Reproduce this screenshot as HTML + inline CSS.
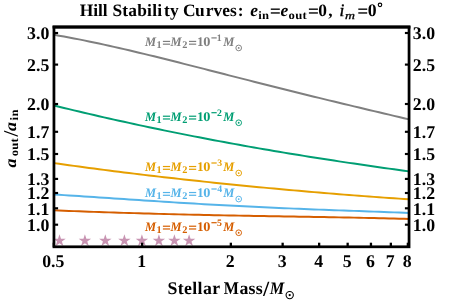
<!DOCTYPE html>
<html><head><meta charset="utf-8"><title>Hill Stability Curves</title>
<style>html,body{margin:0;padding:0;background:#fff;}body{width:463px;height:300px;overflow:hidden;position:relative;font-family:"Liberation Serif",serif;}</style></head>
<body>
<svg width="463" height="300" viewBox="0 0 463 300" font-family="Liberation Serif, serif" text-rendering="geometricPrecision" style="display:block;position:absolute;left:0;top:0;will-change:transform;opacity:0.999">
<rect x="0" y="0" width="463" height="300" fill="#fff"/>
<polygon points="59.50,234.25 60.97,238.78 65.73,238.78 61.88,241.57 63.35,246.10 59.50,243.30 55.65,246.10 57.12,241.57 53.27,238.78 58.03,238.78" fill="#C894B2" fill-opacity="1"/>
<polygon points="84.90,234.25 86.37,238.78 91.13,238.78 87.28,241.57 88.75,246.10 84.90,243.30 81.05,246.10 82.52,241.57 78.67,238.78 83.43,238.78" fill="#C894B2" fill-opacity="1"/>
<polygon points="105.30,234.25 106.77,238.78 111.53,238.78 107.68,241.57 109.15,246.10 105.30,243.30 101.45,246.10 102.92,241.57 99.07,238.78 103.83,238.78" fill="#C894B2" fill-opacity="1"/>
<polygon points="124.40,234.25 125.87,238.78 130.63,238.78 126.78,241.57 128.25,246.10 124.40,243.30 120.55,246.10 122.02,241.57 118.17,238.78 122.93,238.78" fill="#C894B2" fill-opacity="1"/>
<polygon points="141.90,234.25 143.37,238.78 148.13,238.78 144.28,241.57 145.75,246.10 141.90,243.30 138.05,246.10 139.52,241.57 135.67,238.78 140.43,238.78" fill="#C894B2" fill-opacity="1"/>
<polygon points="158.90,234.25 160.37,238.78 165.13,238.78 161.28,241.57 162.75,246.10 158.90,243.30 155.05,246.10 156.52,241.57 152.67,238.78 157.43,238.78" fill="#C894B2" fill-opacity="1"/>
<polygon points="174.40,234.25 175.87,238.78 180.63,238.78 176.78,241.57 178.25,246.10 174.40,243.30 170.55,246.10 172.02,241.57 168.17,238.78 172.93,238.78" fill="#C894B2" fill-opacity="1"/>
<polygon points="189.10,234.25 190.57,238.78 195.33,238.78 191.48,241.57 192.95,246.10 189.10,243.30 185.25,246.10 186.72,241.57 182.87,238.78 187.63,238.78" fill="#C894B2" fill-opacity="1"/>
<path d="M54.0,34.81 L59.0,35.67 L64.0,36.56 L69.0,37.48 L74.0,38.43 L79.0,39.40 L84.0,40.40 L89.0,41.42 L94.0,42.47 L99.0,43.53 L104.0,44.62 L109.0,45.72 L114.0,46.84 L119.0,47.98 L124.0,49.14 L129.0,50.30 L134.0,51.49 L139.0,52.68 L144.0,53.88 L149.0,55.10 L154.0,56.32 L159.0,57.56 L164.0,58.80 L169.0,60.05 L174.0,61.30 L179.0,62.56 L184.0,63.83 L189.0,65.10 L194.0,66.37 L199.0,67.65 L204.0,68.92 L209.0,70.20 L214.0,71.48 L219.0,72.76 L224.0,74.04 L229.0,75.32 L234.0,76.60 L239.0,77.88 L244.0,79.16 L249.0,80.43 L254.0,81.70 L259.0,82.97 L264.0,84.23 L269.0,85.50 L274.0,86.75 L279.0,88.01 L284.0,89.26 L289.0,90.51 L294.0,91.75 L299.0,92.99 L304.0,94.22 L309.0,95.45 L314.0,96.68 L319.0,97.90 L324.0,99.12 L329.0,100.33 L334.0,101.54 L339.0,102.75 L344.0,103.95 L349.0,105.15 L354.0,106.35 L359.0,107.54 L364.0,108.74 L369.0,109.93 L374.0,111.11 L379.0,112.30 L384.0,113.49 L389.0,114.67 L394.0,115.86 L399.0,117.05 L404.0,118.23 L409.0,119.42" fill="none" stroke="#7f7f7f" stroke-width="1.95" stroke-linejoin="round"/>
<path d="M54.0,105.53 L59.0,106.75 L64.0,107.96 L69.0,109.17 L74.0,110.36 L79.0,111.55 L84.0,112.72 L89.0,113.89 L94.0,115.05 L99.0,116.20 L104.0,117.34 L109.0,118.47 L114.0,119.60 L119.0,120.71 L124.0,121.82 L129.0,122.91 L134.0,124.00 L139.0,125.08 L144.0,126.15 L149.0,127.21 L154.0,128.26 L159.0,129.30 L164.0,130.34 L169.0,131.36 L174.0,132.38 L179.0,133.38 L184.0,134.38 L189.0,135.37 L194.0,136.35 L199.0,137.33 L204.0,138.29 L209.0,139.25 L214.0,140.20 L219.0,141.13 L224.0,142.07 L229.0,142.99 L234.0,143.90 L239.0,144.81 L244.0,145.71 L249.0,146.60 L254.0,147.48 L259.0,148.35 L264.0,149.22 L269.0,150.08 L274.0,150.93 L279.0,151.77 L284.0,152.61 L289.0,153.44 L294.0,154.26 L299.0,155.07 L304.0,155.88 L309.0,156.68 L314.0,157.47 L319.0,158.26 L324.0,159.04 L329.0,159.81 L334.0,160.58 L339.0,161.34 L344.0,162.09 L349.0,162.84 L354.0,163.58 L359.0,164.32 L364.0,165.05 L369.0,165.77 L374.0,166.49 L379.0,167.20 L384.0,167.91 L389.0,168.62 L394.0,169.31 L399.0,170.01 L404.0,170.70 L409.0,171.38" fill="none" stroke="#009E73" stroke-width="1.95" stroke-linejoin="round"/>
<path d="M54.0,163.10 L59.0,163.81 L64.0,164.51 L69.0,165.21 L74.0,165.90 L79.0,166.58 L84.0,167.26 L89.0,167.93 L94.0,168.59 L99.0,169.24 L104.0,169.89 L109.0,170.53 L114.0,171.17 L119.0,171.80 L124.0,172.42 L129.0,173.04 L134.0,173.65 L139.0,174.25 L144.0,174.85 L149.0,175.44 L154.0,176.03 L159.0,176.61 L164.0,177.19 L169.0,177.76 L174.0,178.32 L179.0,178.88 L184.0,179.44 L189.0,179.99 L194.0,180.53 L199.0,181.07 L204.0,181.61 L209.0,182.13 L214.0,182.66 L219.0,183.18 L224.0,183.69 L229.0,184.20 L234.0,184.71 L239.0,185.21 L244.0,185.70 L249.0,186.19 L254.0,186.68 L259.0,187.16 L264.0,187.63 L269.0,188.11 L274.0,188.57 L279.0,189.03 L284.0,189.49 L289.0,189.94 L294.0,190.39 L299.0,190.83 L304.0,191.27 L309.0,191.71 L314.0,192.13 L319.0,192.56 L324.0,192.98 L329.0,193.39 L334.0,193.80 L339.0,194.21 L344.0,194.60 L349.0,195.00 L354.0,195.39 L359.0,195.77 L364.0,196.15 L369.0,196.52 L374.0,196.89 L379.0,197.26 L384.0,197.61 L389.0,197.97 L394.0,198.31 L399.0,198.65 L404.0,198.99 L409.0,199.32" fill="none" stroke="#E69F00" stroke-width="1.95" stroke-linejoin="round"/>
<path d="M54.0,194.52 L59.0,194.83 L64.0,195.14 L69.0,195.45 L74.0,195.77 L79.0,196.09 L84.0,196.42 L89.0,196.75 L94.0,197.08 L99.0,197.41 L104.0,197.75 L109.0,198.08 L114.0,198.42 L119.0,198.75 L124.0,199.09 L129.0,199.42 L134.0,199.76 L139.0,200.09 L144.0,200.42 L149.0,200.75 L154.0,201.08 L159.0,201.40 L164.0,201.72 L169.0,202.04 L174.0,202.36 L179.0,202.67 L184.0,202.98 L189.0,203.28 L194.0,203.58 L199.0,203.87 L204.0,204.16 L209.0,204.45 L214.0,204.73 L219.0,205.01 L224.0,205.28 L229.0,205.55 L234.0,205.81 L239.0,206.07 L244.0,206.32 L249.0,206.57 L254.0,206.82 L259.0,207.05 L264.0,207.29 L269.0,207.52 L274.0,207.74 L279.0,207.97 L284.0,208.18 L289.0,208.40 L294.0,208.60 L299.0,208.81 L304.0,209.01 L309.0,209.21 L314.0,209.41 L319.0,209.60 L324.0,209.79 L329.0,209.98 L334.0,210.17 L339.0,210.35 L344.0,210.53 L349.0,210.72 L354.0,210.90 L359.0,211.08 L364.0,211.26 L369.0,211.45 L374.0,211.63 L379.0,211.82 L384.0,212.01 L389.0,212.20 L394.0,212.39 L399.0,212.59 L404.0,212.79 L409.0,213.00" fill="none" stroke="#56B4E9" stroke-width="1.95" stroke-linejoin="round"/>
<path d="M54.0,210.37 L59.0,210.56 L64.0,210.75 L69.0,210.94 L74.0,211.13 L79.0,211.32 L84.0,211.50 L89.0,211.68 L94.0,211.85 L99.0,212.03 L104.0,212.20 L109.0,212.36 L114.0,212.53 L119.0,212.69 L124.0,212.85 L129.0,213.00 L134.0,213.15 L139.0,213.30 L144.0,213.45 L149.0,213.59 L154.0,213.73 L159.0,213.86 L164.0,214.00 L169.0,214.13 L174.0,214.25 L179.0,214.38 L184.0,214.50 L189.0,214.61 L194.0,214.73 L199.0,214.84 L204.0,214.95 L209.0,215.06 L214.0,215.16 L219.0,215.26 L224.0,215.36 L229.0,215.46 L234.0,215.56 L239.0,215.65 L244.0,215.74 L249.0,215.83 L254.0,215.92 L259.0,216.01 L264.0,216.09 L269.0,216.18 L274.0,216.26 L279.0,216.34 L284.0,216.42 L289.0,216.51 L294.0,216.59 L299.0,216.67 L304.0,216.75 L309.0,216.84 L314.0,216.92 L319.0,217.00 L324.0,217.09 L329.0,217.18 L334.0,217.27 L339.0,217.36 L344.0,217.45 L349.0,217.54 L354.0,217.64 L359.0,217.74 L364.0,217.85 L369.0,217.96 L374.0,218.07 L379.0,218.19 L384.0,218.31 L389.0,218.43 L394.0,218.56 L399.0,218.70 L404.0,218.84 L409.0,218.99" fill="none" stroke="#D55E00" stroke-width="1.95" stroke-linejoin="round"/>
<rect x="53.95" y="26.95" width="355.1" height="219.85" fill="none" stroke="#000" stroke-width="2.75"/>
<rect x="52.6" y="25.6" width="357.8" height="2.95" fill="#000"/>
<line x1="54" x2="58.1" y1="224.7" y2="224.7" stroke="#000" stroke-width="2.15"/>
<line x1="409" x2="404.9" y1="224.7" y2="224.7" stroke="#000" stroke-width="2.15"/>
<line x1="54" x2="58.1" y1="208.3" y2="208.3" stroke="#000" stroke-width="2.15"/>
<line x1="409" x2="404.9" y1="208.3" y2="208.3" stroke="#000" stroke-width="2.15"/>
<line x1="54" x2="58.1" y1="193.0" y2="193.0" stroke="#000" stroke-width="2.15"/>
<line x1="409" x2="404.9" y1="193.0" y2="193.0" stroke="#000" stroke-width="2.15"/>
<line x1="54" x2="58.1" y1="178.9" y2="178.9" stroke="#000" stroke-width="2.15"/>
<line x1="409" x2="404.9" y1="178.9" y2="178.9" stroke="#000" stroke-width="2.15"/>
<line x1="54" x2="58.1" y1="154.0" y2="154.0" stroke="#000" stroke-width="2.15"/>
<line x1="409" x2="404.9" y1="154.0" y2="154.0" stroke="#000" stroke-width="2.15"/>
<line x1="54" x2="58.1" y1="131.8" y2="131.8" stroke="#000" stroke-width="2.15"/>
<line x1="409" x2="404.9" y1="131.8" y2="131.8" stroke="#000" stroke-width="2.15"/>
<line x1="54" x2="58.1" y1="104.0" y2="104.0" stroke="#000" stroke-width="2.15"/>
<line x1="409" x2="404.9" y1="104.0" y2="104.0" stroke="#000" stroke-width="2.15"/>
<line x1="54" x2="58.1" y1="64.6" y2="64.6" stroke="#000" stroke-width="2.15"/>
<line x1="409" x2="404.9" y1="64.6" y2="64.6" stroke="#000" stroke-width="2.15"/>
<line x1="54" x2="58.1" y1="33.0" y2="33.0" stroke="#000" stroke-width="2.15"/>
<line x1="409" x2="404.9" y1="33.0" y2="33.0" stroke="#000" stroke-width="2.15"/>
<line x1="53.85" x2="53.85" y1="247" y2="242.7" stroke="#000" stroke-width="2.3"/>
<line x1="142.15" x2="142.15" y1="247" y2="242.7" stroke="#000" stroke-width="2.3"/>
<line x1="230.85" x2="230.85" y1="247" y2="242.7" stroke="#000" stroke-width="2.3"/>
<line x1="282.65000000000003" x2="282.65000000000003" y1="247" y2="242.7" stroke="#000" stroke-width="2.3"/>
<line x1="319.15000000000003" x2="319.15000000000003" y1="247" y2="242.7" stroke="#000" stroke-width="2.3"/>
<line x1="347.65000000000003" x2="347.65000000000003" y1="247" y2="242.7" stroke="#000" stroke-width="2.3"/>
<line x1="370.95000000000005" x2="370.95000000000005" y1="247" y2="242.7" stroke="#000" stroke-width="2.3"/>
<line x1="390.85" x2="390.85" y1="247" y2="242.7" stroke="#000" stroke-width="2.3"/>
<line x1="407.85" x2="407.85" y1="247" y2="242.7" stroke="#000" stroke-width="2.3"/>
<text transform="translate(49.3,231.1) scale(1.0,1)" text-anchor="end" font-weight="bold" font-size="17.8">1.0</text>
<text transform="translate(412.8,231.1) scale(1.0,1)" text-anchor="start" font-weight="bold" font-size="17.8">1.0</text>
<text transform="translate(49.3,214.7) scale(1.0,1)" text-anchor="end" font-weight="bold" font-size="17.8">1.1</text>
<text transform="translate(412.8,214.7) scale(1.0,1)" text-anchor="start" font-weight="bold" font-size="17.8">1.1</text>
<text transform="translate(49.3,199.4) scale(1.0,1)" text-anchor="end" font-weight="bold" font-size="17.8">1.2</text>
<text transform="translate(412.8,199.4) scale(1.0,1)" text-anchor="start" font-weight="bold" font-size="17.8">1.2</text>
<text transform="translate(49.3,185.3) scale(1.0,1)" text-anchor="end" font-weight="bold" font-size="17.8">1.3</text>
<text transform="translate(412.8,185.3) scale(1.0,1)" text-anchor="start" font-weight="bold" font-size="17.8">1.3</text>
<text transform="translate(49.3,160.4) scale(1.0,1)" text-anchor="end" font-weight="bold" font-size="17.8">1.5</text>
<text transform="translate(412.8,160.4) scale(1.0,1)" text-anchor="start" font-weight="bold" font-size="17.8">1.5</text>
<text transform="translate(49.3,138.2) scale(1.0,1)" text-anchor="end" font-weight="bold" font-size="17.8">1.7</text>
<text transform="translate(412.8,138.2) scale(1.0,1)" text-anchor="start" font-weight="bold" font-size="17.8">1.7</text>
<text transform="translate(49.3,110.4) scale(1.0,1)" text-anchor="end" font-weight="bold" font-size="17.8">2.0</text>
<text transform="translate(412.8,110.4) scale(1.0,1)" text-anchor="start" font-weight="bold" font-size="17.8">2.0</text>
<text transform="translate(49.3,71.0) scale(1.0,1)" text-anchor="end" font-weight="bold" font-size="17.8">2.5</text>
<text transform="translate(412.8,71.0) scale(1.0,1)" text-anchor="start" font-weight="bold" font-size="17.8">2.5</text>
<text transform="translate(49.3,39.4) scale(1.0,1)" text-anchor="end" font-weight="bold" font-size="17.8">3.0</text>
<text transform="translate(412.8,39.4) scale(1.0,1)" text-anchor="start" font-weight="bold" font-size="17.8">3.0</text>
<text transform="translate(53.3,267.0) scale(1.0,1)" text-anchor="middle" font-weight="bold" font-size="17.8">0.5</text>
<text transform="translate(141.60000000000002,267.0) scale(1.0,1)" text-anchor="middle" font-weight="bold" font-size="17.8">1</text>
<text transform="translate(230.3,267.0) scale(1.0,1)" text-anchor="middle" font-weight="bold" font-size="17.8">2</text>
<text transform="translate(282.1,267.0) scale(1.0,1)" text-anchor="middle" font-weight="bold" font-size="17.8">3</text>
<text transform="translate(318.6,267.0) scale(1.0,1)" text-anchor="middle" font-weight="bold" font-size="17.8">4</text>
<text transform="translate(347.1,267.0) scale(1.0,1)" text-anchor="middle" font-weight="bold" font-size="17.8">5</text>
<text transform="translate(370.40000000000003,267.0) scale(1.0,1)" text-anchor="middle" font-weight="bold" font-size="17.8">6</text>
<text transform="translate(390.3,267.0) scale(1.0,1)" text-anchor="middle" font-weight="bold" font-size="17.8">7</text>
<text transform="translate(407.3,267.0) scale(1.0,1)" text-anchor="middle" font-weight="bold" font-size="17.8">8</text>
<text x="79.80" y="15.8" font-size="17.4" font-weight="bold" letter-spacing="-0.1">Hill</text>
<text x="112.47" y="15.8" font-size="17.4" font-weight="bold" letter-spacing="0.2">Stabili</text>
<text x="164.02" y="15.8" font-size="17.4" font-weight="bold" letter-spacing="0.2">ty</text>
<text x="182.95" y="15.8" font-size="17.4" font-weight="bold" letter-spacing="-0.5">Cu</text>
<text x="205.73" y="15.8" font-size="17.4" font-weight="bold" letter-spacing="0.05">rves</text>
<text x="237.87" y="15.8" font-size="17.4" font-weight="bold">:</text>
<text x="250.29" y="15.8" font-size="17.4" font-weight="bold" font-style="italic">e</text>
<text x="0.00" y="18.5" font-size="11.5" font-weight="bold" letter-spacing="0.2" transform="translate(258.22,0) scale(1.1,1)">in</text>
<rect x="270.8" y="8.50" width="9.00" height="1.35" fill="#000"/><rect x="270.8" y="12.29" width="9.00" height="1.35" fill="#000"/>
<text x="280.39" y="15.8" font-size="17.4" font-weight="bold" font-style="italic">e</text>
<text x="0.00" y="18.5" font-size="11.5" font-weight="bold" letter-spacing="0.2" transform="translate(288.62,0) scale(1.1,1)">out</text>
<rect x="308.9" y="8.50" width="9.00" height="1.35" fill="#000"/><rect x="308.9" y="12.29" width="9.00" height="1.35" fill="#000"/>
<text x="318.14" y="15.8" font-size="17.4" font-weight="bold">0</text>
<text x="328.37" y="15.8" font-size="17.4" font-weight="bold">,</text>
<text x="339.43" y="15.8" font-size="17.4"  font-style="italic" stroke="#000" stroke-width="0.4">i</text>
<text x="0.00" y="18.9" font-size="10.8"  font-style="italic" stroke="#000" stroke-width="0.3" transform="translate(344.90,0) scale(1.28,1)">m</text>
<rect x="358.3" y="8.50" width="8.90" height="1.35" fill="#000"/><rect x="358.3" y="12.29" width="8.90" height="1.35" fill="#000"/>
<text x="367.63" y="15.600000000000001" font-size="17.7" font-weight="bold">0</text>
<circle cx="380" cy="4.8" r="1.75" fill="none" stroke="#000" stroke-width="1.15"/>
<text x="167.45" y="294.2" font-size="17.8" font-weight="bold" letter-spacing="0.38">Stellar</text>
<text x="0.00" y="294.2" font-size="17.8" font-weight="bold" transform="translate(223.83,0) scale(0.9,1)">M</text>
<text x="239.43" y="294.2" font-size="17.8" font-weight="bold" letter-spacing="0.3">ass</text>
<path d="M262.9,296 L264.4,296 L269.4,281.7 L267.9,281.7 Z" fill="#000"/>
<text x="0.00" y="294.2" font-size="17.5" font-weight="bold" font-style="italic" transform="translate(269.81,0) scale(0.93,1)">M</text>
<circle cx="289.7" cy="295.1" r="3.65" fill="none" stroke="#000" stroke-width="1.1"/><circle cx="289.7" cy="295.1" r="1.15" fill="#000"/>
<g transform="translate(15.9,0) rotate(-90)"><text x="0.00" y="0" font-size="16.3" font-weight="bold" font-style="italic" transform="translate(-167.51,0) scale(1.1,1)">a</text><text x="0.00" y="1.7" font-size="11.5" font-weight="bold" letter-spacing="0.2" transform="translate(-156.28,0) scale(1.1,1)">out</text><path d="M-136.7,2.0 L-135.4,2.0 L-130.4,-11.8 L-131.7,-11.8 Z" fill="#000"/><text x="0.00" y="0" font-size="16.3" font-weight="bold" font-style="italic" transform="translate(-131.11,0) scale(1.1,1)">a</text><text x="0.00" y="1.7" font-size="11.5" font-weight="bold" letter-spacing="0.6" transform="translate(-120.58,0) scale(1.1,1)">in</text></g>
<text x="0.00" y="46.25" font-size="13.0" font-weight="bold" font-style="italic" fill="#7f7f7f" transform="translate(144.96,0) scale(0.96,1)">M</text><text x="156.48" y="48.15" font-size="10.3" font-weight="bold" fill="#7f7f7f">1</text><rect x="162.9" y="40.82" width="7.20" height="1.2" fill="#7f7f7f"/><rect x="162.9" y="43.57" width="7.20" height="1.2" fill="#7f7f7f"/><text x="0.00" y="46.25" font-size="13.0" font-weight="bold" font-style="italic" fill="#7f7f7f" transform="translate(170.46,0) scale(0.96,1)">M</text><text x="182.17" y="48.15" font-size="10.3" font-weight="bold" fill="#7f7f7f">2</text><rect x="189.0" y="40.82" width="7.20" height="1.2" fill="#7f7f7f"/><rect x="189.0" y="43.57" width="7.20" height="1.2" fill="#7f7f7f"/><text x="196.93" y="45.95" font-size="13.3" font-weight="bold" fill="#7f7f7f">1</text><text x="0.00" y="45.95" font-size="13.3" font-weight="bold" fill="#7f7f7f" transform="translate(203.25,0) scale(1.08,1)">0</text><rect x="211.40" y="37.30" width="5.3" height="1.2" fill="#7f7f7f"/><text x="216.72" y="40.95" font-size="9.8" font-weight="bold" fill="#7f7f7f">1</text><text x="0.00" y="46.25" font-size="13.0" font-weight="bold" font-style="italic" fill="#7f7f7f" transform="translate(223.26,0) scale(0.96,1)">M</text><circle cx="238.7" cy="47.95" r="2.85" fill="none" stroke="#7f7f7f" stroke-width="0.95"/><circle cx="238.7" cy="47.95" r="0.9" fill="#7f7f7f"/>
<text x="0.00" y="121.05" font-size="13.0" font-weight="bold" font-style="italic" fill="#009E73" transform="translate(144.96,0) scale(0.96,1)">M</text><text x="156.48" y="122.95" font-size="10.3" font-weight="bold" fill="#009E73">1</text><rect x="162.9" y="115.62" width="7.20" height="1.2" fill="#009E73"/><rect x="162.9" y="118.38" width="7.20" height="1.2" fill="#009E73"/><text x="0.00" y="121.05" font-size="13.0" font-weight="bold" font-style="italic" fill="#009E73" transform="translate(170.46,0) scale(0.96,1)">M</text><text x="182.17" y="122.95" font-size="10.3" font-weight="bold" fill="#009E73">2</text><rect x="189.0" y="115.62" width="7.20" height="1.2" fill="#009E73"/><rect x="189.0" y="118.38" width="7.20" height="1.2" fill="#009E73"/><text x="196.93" y="120.75" font-size="13.3" font-weight="bold" fill="#009E73">1</text><text x="0.00" y="120.75" font-size="13.3" font-weight="bold" fill="#009E73" transform="translate(203.25,0) scale(1.08,1)">0</text><rect x="211.40" y="112.10" width="5.3" height="1.2" fill="#009E73"/><text x="217.09" y="115.75" font-size="9.8" font-weight="bold" fill="#009E73">2</text><text x="0.00" y="121.05" font-size="13.0" font-weight="bold" font-style="italic" fill="#009E73" transform="translate(223.26,0) scale(0.96,1)">M</text><circle cx="238.7" cy="122.75" r="2.85" fill="none" stroke="#009E73" stroke-width="0.95"/><circle cx="238.7" cy="122.75" r="0.9" fill="#009E73"/>
<text x="0.00" y="171.35" font-size="13.0" font-weight="bold" font-style="italic" fill="#E69F00" transform="translate(144.96,0) scale(0.96,1)">M</text><text x="156.48" y="173.25" font-size="10.3" font-weight="bold" fill="#E69F00">1</text><rect x="162.9" y="165.93" width="7.20" height="1.2" fill="#E69F00"/><rect x="162.9" y="168.68" width="7.20" height="1.2" fill="#E69F00"/><text x="0.00" y="171.35" font-size="13.0" font-weight="bold" font-style="italic" fill="#E69F00" transform="translate(170.46,0) scale(0.96,1)">M</text><text x="182.17" y="173.25" font-size="10.3" font-weight="bold" fill="#E69F00">2</text><rect x="189.0" y="165.93" width="7.20" height="1.2" fill="#E69F00"/><rect x="189.0" y="168.68" width="7.20" height="1.2" fill="#E69F00"/><text x="196.93" y="171.04999999999998" font-size="13.3" font-weight="bold" fill="#E69F00">1</text><text x="0.00" y="171.04999999999998" font-size="13.3" font-weight="bold" fill="#E69F00" transform="translate(203.25,0) scale(1.08,1)">0</text><rect x="211.40" y="162.40" width="5.3" height="1.2" fill="#E69F00"/><text x="217.13" y="166.04999999999998" font-size="9.8" font-weight="bold" fill="#E69F00">3</text><text x="0.00" y="171.35" font-size="13.0" font-weight="bold" font-style="italic" fill="#E69F00" transform="translate(223.26,0) scale(0.96,1)">M</text><circle cx="238.7" cy="173.04999999999998" r="2.85" fill="none" stroke="#E69F00" stroke-width="0.95"/><circle cx="238.7" cy="173.04999999999998" r="0.9" fill="#E69F00"/>
<text x="0.00" y="197.35" font-size="13.0" font-weight="bold" font-style="italic" fill="#56B4E9" transform="translate(144.96,0) scale(0.96,1)">M</text><text x="156.48" y="199.25" font-size="10.3" font-weight="bold" fill="#56B4E9">1</text><rect x="162.9" y="191.93" width="7.20" height="1.2" fill="#56B4E9"/><rect x="162.9" y="194.68" width="7.20" height="1.2" fill="#56B4E9"/><text x="0.00" y="197.35" font-size="13.0" font-weight="bold" font-style="italic" fill="#56B4E9" transform="translate(170.46,0) scale(0.96,1)">M</text><text x="182.17" y="199.25" font-size="10.3" font-weight="bold" fill="#56B4E9">2</text><rect x="189.0" y="191.93" width="7.20" height="1.2" fill="#56B4E9"/><rect x="189.0" y="194.68" width="7.20" height="1.2" fill="#56B4E9"/><text x="196.93" y="197.04999999999998" font-size="13.3" font-weight="bold" fill="#56B4E9">1</text><text x="0.00" y="197.04999999999998" font-size="13.3" font-weight="bold" fill="#56B4E9" transform="translate(203.25,0) scale(1.08,1)">0</text><rect x="211.40" y="188.40" width="5.3" height="1.2" fill="#56B4E9"/><text x="217.37" y="192.04999999999998" font-size="9.8" font-weight="bold" fill="#56B4E9">4</text><text x="0.00" y="197.35" font-size="13.0" font-weight="bold" font-style="italic" fill="#56B4E9" transform="translate(223.26,0) scale(0.96,1)">M</text><circle cx="238.7" cy="199.04999999999998" r="2.85" fill="none" stroke="#56B4E9" stroke-width="0.95"/><circle cx="238.7" cy="199.04999999999998" r="0.9" fill="#56B4E9"/>
<text x="0.00" y="231.04999999999998" font-size="13.0" font-weight="bold" font-style="italic" fill="#D55E00" transform="translate(144.96,0) scale(0.96,1)">M</text><text x="156.48" y="232.95" font-size="10.3" font-weight="bold" fill="#D55E00">1</text><rect x="162.9" y="225.62" width="7.20" height="1.2" fill="#D55E00"/><rect x="162.9" y="228.38" width="7.20" height="1.2" fill="#D55E00"/><text x="0.00" y="231.04999999999998" font-size="13.0" font-weight="bold" font-style="italic" fill="#D55E00" transform="translate(170.46,0) scale(0.96,1)">M</text><text x="182.17" y="232.95" font-size="10.3" font-weight="bold" fill="#D55E00">2</text><rect x="189.0" y="225.62" width="7.20" height="1.2" fill="#D55E00"/><rect x="189.0" y="228.38" width="7.20" height="1.2" fill="#D55E00"/><text x="196.93" y="230.74999999999997" font-size="13.3" font-weight="bold" fill="#D55E00">1</text><text x="0.00" y="230.74999999999997" font-size="13.3" font-weight="bold" fill="#D55E00" transform="translate(203.25,0) scale(1.08,1)">0</text><rect x="211.40" y="222.10" width="5.3" height="1.2" fill="#D55E00"/><text x="217.11" y="225.74999999999997" font-size="9.8" font-weight="bold" fill="#D55E00">5</text><text x="0.00" y="231.04999999999998" font-size="13.0" font-weight="bold" font-style="italic" fill="#D55E00" transform="translate(223.26,0) scale(0.96,1)">M</text><circle cx="238.7" cy="232.74999999999997" r="2.85" fill="none" stroke="#D55E00" stroke-width="0.95"/><circle cx="238.7" cy="232.74999999999997" r="0.9" fill="#D55E00"/>
</svg>
</body></html>
